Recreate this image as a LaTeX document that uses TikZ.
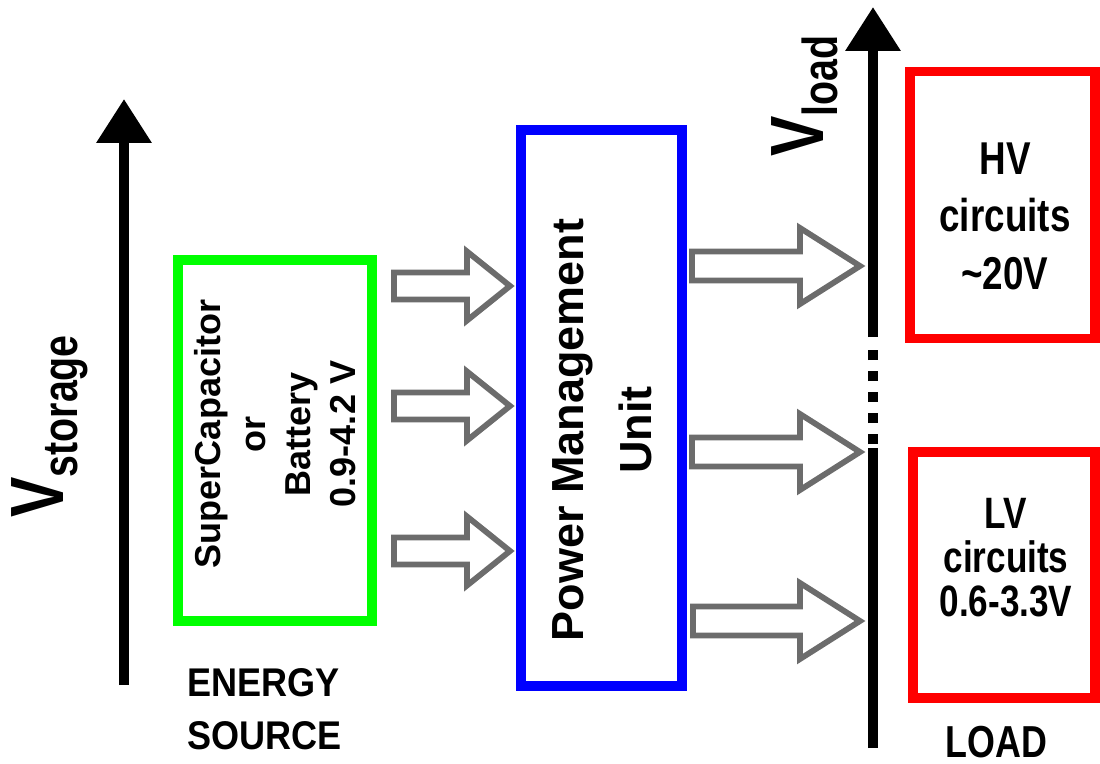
\documentclass[tikz,border=0pt]{standalone}
\usepackage{fontspec}
\setmainfont{Liberation Sans}
\newfontfamily\narrowsf[FakeStretch=0.8]{Liberation Sans}
\newfontfamily\semisf[FakeStretch=0.9]{Liberation Sans}
\usetikzlibrary{arrows.meta,calc}

\definecolor{srcgreen}{RGB}{0,255,0}
\definecolor{pmublue}{RGB}{0,0,255}
\definecolor{loadred}{RGB}{255,0,0}
\definecolor{arrgray}{RGB}{108,108,108}

\tikzset{
  box/.style={draw, line width=5.2pt, inner sep=0pt},
  hollow/.style={draw=arrgray, line width=3.3pt},
  axis/.style={line width=5.7pt, -{Triangle[width=1.06cm,length=0.88cm]}},
}

% V with a subscript, set upright along the axis
\newcommand{\vlabel}[1]{{\narrowsf\bfseries\fontsize{43}{43}\selectfont V}%
  \raisebox{-8.5pt}{\narrowsf\bfseries\fontsize{28}{28}\selectfont #1}}

% hollow block arrow: from, tip, head length, shaft half width, head half width
\newcommand{\hollowarrow}[5]{%
  \draw[hollow] ($(#1)+(0,-#4)$) -- ($(#2)+(-#3,-#4)$) -- ($(#2)+(-#3,-#5)$)
    -- (#2) -- ($(#2)+(-#3,#5)$) -- ($(#2)+(-#3,#4)$) -- ($(#1)+(0,#4)$) -- cycle;}

\begin{document}
\begin{tikzpicture}[x=0.02cm, y=-0.02cm]
  \useasboundingbox (0,0) rectangle (1100,764);

  % Storage voltage axis
  \coordinate (sbot) at (124,685);
  \coordinate (stop) at (124,99);
  \draw[axis] (sbot) -- (stop);
  \node[rotate=90, anchor=base west, inner sep=0pt] (vstor) at (63,518) {\vlabel{storage}};

  % Energy source
  \node[box, draw=srcgreen, minimum width=3.88cm, minimum height=7.22cm] (src) at (275,440.5) {};
  \node[rotate=90, align=center, inner sep=0pt, font=\bfseries\fontsize{20.5}{25.6}\selectfont]
    (srctext) at (275,434) {SuperCapacitor\\or\\Battery\\0.9-4.2 V};
  \node[anchor=north west, align=left, inner sep=0pt, font=\semisf\bfseries\fontsize{22.8}{30}\selectfont]
    (srclabel) at (187,668) {ENERGY\\SOURCE};

  % Power management unit
  \node[box, draw=pmublue, minimum width=3.22cm, minimum height=11.12cm] (pmu) at (601.5,408) {};
  \node[rotate=90, align=center, inner sep=0pt, font=\bfseries\fontsize{25.6}{38.7}\selectfont]
    (pmutext) at (602.5,430) {Power Management\\Unit};

  % Loads
  \node[box, draw=loadred, minimum width=3.7cm, minimum height=5.33cm] (hv) at (1002.5,205) {};
  \node[align=center, inner sep=0pt, font=\narrowsf\bfseries\fontsize{26.2}{32.7}\selectfont]
    (hvtext) at (1005,216) {HV\\circuits\\\textasciitilde20V};
  \node[box, draw=loadred, minimum width=3.64cm, minimum height=4.92cm] (lv) at (1004,575) {};
  \node[align=center, inner sep=0pt, font=\narrowsf\bfseries\fontsize{25}{25}\selectfont]
    (lvtext) at (1006,558) {LV\\circuits\\0.6-3.3V};
  \node[anchor=north west, inner sep=0pt, font=\narrowsf\bfseries\fontsize{25.5}{30}\selectfont]
    (loadlabel) at (945,726) {LOAD};

  % Load voltage axis, broken by dots
  \coordinate (lbot) at (873,748);
  \coordinate (lgap) at (873,448);
  \coordinate (dlow) at (873,444);
  \coordinate (dup) at (873,349);
  \coordinate (lmid) at (873,337);
  \coordinate (ltop) at (873,7);
  \draw[line width=5.7pt] (lbot) -- (lgap);
  \draw[line width=5.7pt, dash pattern=on 0.2cm off 0.22cm] (dlow) -- (dup);
  \draw[axis] (lmid) -- (ltop);
  \node[rotate=90, anchor=base west, inner sep=0pt] (vload) at (823,157) {\vlabel{load}};

  % Arrows into the PMU
  \coordinate (in1) at (394,286);  \coordinate (pin1) at (510,286);
  \coordinate (in2) at (394,406);  \coordinate (pin2) at (510,406);
  \coordinate (in3) at (394,551);  \coordinate (pin3) at (510,551);
  \hollowarrow{in1}{pin1}{43}{13.5}{34.5}
  \hollowarrow{in2}{pin2}{43}{13.5}{34.5}
  \hollowarrow{in3}{pin3}{43}{13.5}{34.5}

  % Arrows out to the load rail
  \coordinate (out1) at (692,266);  \coordinate (rail1) at (860,266);
  \coordinate (out2) at (692,452);  \coordinate (rail2) at (860,452);
  \coordinate (out3) at (693,621);  \coordinate (rail3) at (860,621);
  \hollowarrow{out1}{rail1}{60}{14.5}{38}
  \hollowarrow{out2}{rail2}{60}{14.5}{38}
  \hollowarrow{out3}{rail3}{60}{14.5}{38}
\end{tikzpicture}
\end{document}
